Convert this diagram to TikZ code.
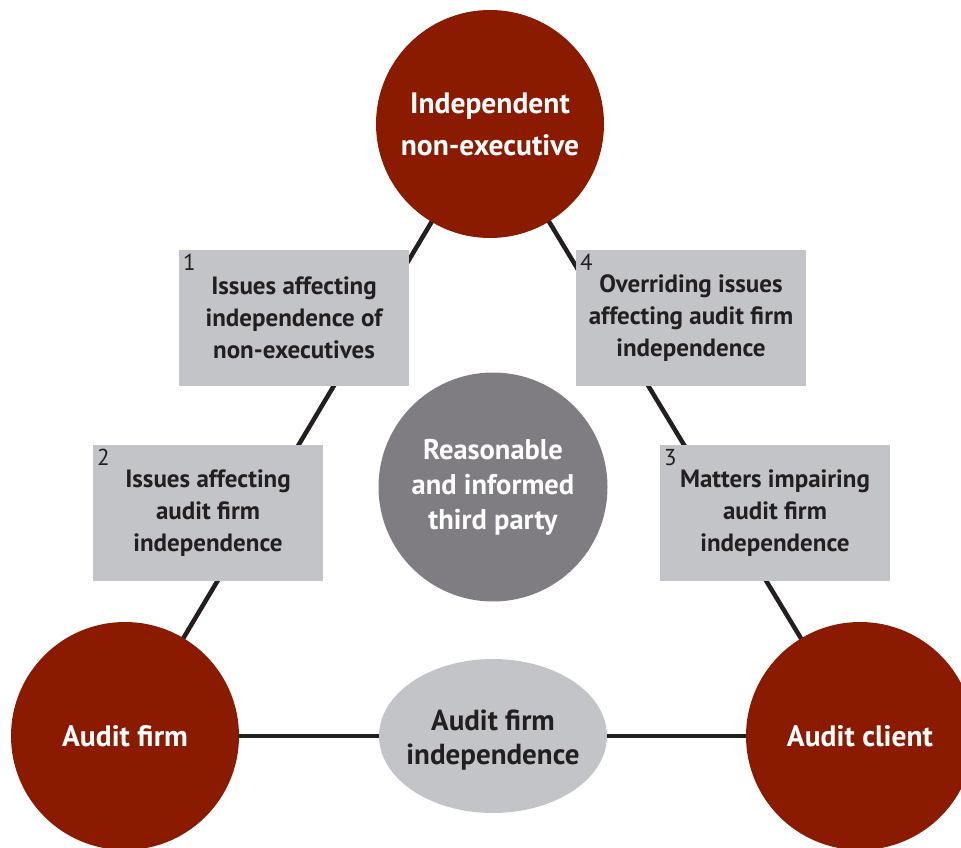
\documentclass[tikz,border=0pt]{standalone}
\usepackage{fontspec}
\setmainfont{PT Sans}
\usetikzlibrary{backgrounds,shapes.geometric}
\definecolor{rust}{RGB}{139,27,0}
\definecolor{slate}{RGB}{128,125,130}
\definecolor{mist}{RGB}{194,196,199}
\definecolor{ink}{RGB}{35,31,32}
\begin{document}
\begin{tikzpicture}[x=1pt,y=-1pt,
  party/.style={circle,fill=rust,minimum size=228pt,inner sep=0pt,text=white,
    font=\fontsize{29.5}{42}\bfseries,align=center},
  issuebox/.style={rectangle,fill=mist,minimum width=230pt,minimum height=136pt,
    inner sep=0pt,text=ink,font=\fontsize{25}{32}\bfseries,align=center},
  tag/.style={anchor=north west,inner sep=0pt,text=ink,font=\fontsize{23}{23}\selectfont},
  link/.style={draw=ink,line width=4.5pt}]
\useasboundingbox (0,0) rectangle (961,848);

% the three parties
\node[party] (ned) at (490,124) {Independent\\non-executive};
\node[party] (firm) at (125,736) {Audit firm};
\node[party] (client) at (860,736) {Audit client};

% centre observer
\node[circle,fill=slate,minimum size=229pt,inner sep=0pt,text=white,
  font=\fontsize{28.5}{35}\bfseries,align=center] (tp) at (493,487)
  {Reasonable\\and informed\\third party};

% independence ellipse on the base, with its caption set on top
\node[ellipse,fill=mist,minimum width=228pt,minimum height=154pt,inner sep=0pt] (afi)
  at (493,736) {};
\node[inner sep=0pt,text=ink,font=\fontsize{29}{34}\bfseries,align=center] (afitext)
  at ([yshift=-4pt]afi.center) {Audit firm\\independence};

% numbered issue boxes
\node[issuebox] (b1) at (294,318) {Issues affecting\\independence of\\non-executives};
\node[issuebox] (b4) at (691,318) {Overriding issues\\affecting audit firm\\independence};
\node[issuebox] (b2) at (208,513) {Issues affecting\\audit firm\\independence};
\node[issuebox] (b3) at (775,513) {Matters impairing\\audit firm\\independence};

\node[tag] (n1) at ([xshift=4pt,yshift=-4pt]b1.north west) {1};
\node[tag] (n4) at ([xshift=4pt,yshift=-4pt]b4.north west) {4};
\node[tag] (n2) at ([xshift=4pt,yshift=-4pt]b2.north west) {2};
\node[tag] (n3) at ([xshift=4pt,yshift=-4pt]b3.north west) {3};

% triangle of connectors behind everything
\begin{scope}[on background layer]
  \draw[link] (ned.center) -- (firm.center);
  \draw[link] (ned.center) -- (client.center);
  \draw[link] (firm.center) -- (client.center);
\end{scope}
\end{tikzpicture}
\end{document}
